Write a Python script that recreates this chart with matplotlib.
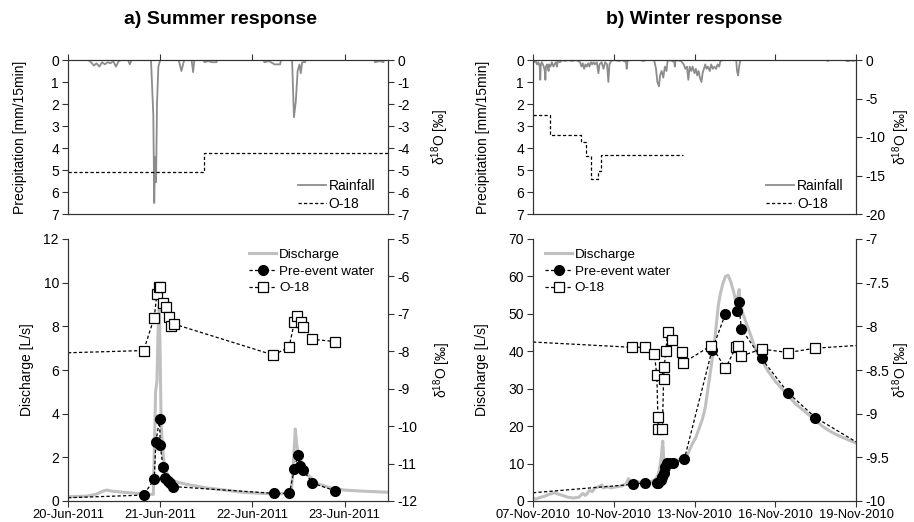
import numpy as np
import pandas as pd
import matplotlib
matplotlib.use("Agg")
import matplotlib.pyplot as plt
import matplotlib.dates as mdates
from matplotlib.lines import Line2D

plt.rcParams['font.family'] = ['Liberation Sans', 'DejaVu Sans']
plt.rcParams['mathtext.fontset'] = 'custom'
plt.rcParams['mathtext.rm'] = 'Liberation Sans'
plt.rcParams['mathtext.it'] = 'Liberation Sans:italic'
plt.rcParams['font.size'] = 10

# ---------------- summer event (days since 20-Jun-2011 00:00) ----------------
summer_start = pd.Timestamp("2011-06-20")
summer_end_day = 3.47

summer_rain_t = [0.0, 0.22, 0.25, 0.28, 0.31, 0.34, 0.37, 0.40, 0.43, 0.46, 0.49, 0.52, 0.55, 0.58,
                 0.65, 0.67, 0.69, 0.90, 0.925, 0.935, 0.945, 0.955, 0.965, 0.98, 1.0,
                 1.20, 1.23, 1.26, 1.34, 1.357, 1.37, 1.47, 1.48, 1.52, 1.56, 1.61, 1.62,
                 2.12, 2.13, 2.18, 2.24, 2.27, 2.30, 2.31, 2.43, 2.45, 2.47, 2.49, 2.51, 2.524,
                 2.54, 2.57, 2.58, 3.32, 3.33, 3.38, 3.42, 3.43, summer_end_day]
summer_rain_v = [0.0, 0.0, 0.1, 0.25, 0.15, 0.3, 0.1, 0.2, 0.1, 0.15, 0.05, 0.3, 0.05, 0.0,
                 0.0, 0.2, 0.0, 0.0, 2.5, 6.5, 4.4, 5.55, 2.0, 0.3, 0.0,
                 0.0, 0.5, 0.0, 0.0, 0.55, 0.0, 0.0, 0.1, 0.05, 0.1, 0.1, 0.0,
                 0.0, 0.1, 0.05, 0.2, 0.2, 0.2, 0.0, 0.0, 2.6, 1.9, 0.5, 0.2, 0.6,
                 0.1, 0.1, 0.0, 0.0, 0.1, 0.05, 0.1, 0.0, 0.0]

summer_rain_o18_t = [0.0, 1.477, summer_end_day]
summer_rain_o18_v = [-5.1, -4.22, -4.22]

summer_q_t = [0.0, 0.2, 0.3, 0.38, 0.42, 0.48, 0.6, 0.75, 0.9, 0.925, 0.94, 0.95, 0.965, 0.975,
              0.99, 1.0, 1.01, 1.025, 1.04, 1.06, 1.09, 1.13, 1.2, 1.3, 1.5, 1.7, 1.9, 2.1,
              2.3, 2.42, 2.44, 2.465, 2.48, 2.5, 2.55, 2.6, 2.7, 2.85, 3.0, 3.2, summer_end_day]
summer_q_v = [0.2, 0.22, 0.3, 0.45, 0.5, 0.45, 0.4, 0.35, 0.3, 0.3, 3.0, 5.0, 5.5, 7.5,
              9.0, 6.5, 3.5, 2.5, 1.8, 1.4, 1.1, 0.95, 0.85, 0.75, 0.6, 0.5, 0.4, 0.35,
              0.33, 0.35, 1.5, 3.3, 2.6, 2.1, 1.6, 1.2, 0.8, 0.6, 0.5, 0.45, 0.4]

# first entry is the line start at the left edge (no marker)
summer_pre_t = [0.0, 0.82, 0.935, 0.953, 0.993, 1.0, 1.03, 1.054, 1.08, 1.108, 1.144,
                2.23, 2.40, 2.455, 2.49, 2.516, 2.55, 2.65, 2.895]
summer_pre_v = [0.15, 0.27, 1.0, 2.72, 3.74, 2.56, 1.57, 1.07, 0.92, 0.81, 0.66,
                0.35, 0.35, 1.45, 2.1, 1.6, 1.42, 0.82, 0.47]

summer_o18_t = [0.0, 0.82, 0.935, 0.964, 0.982, 1.0, 1.025, 1.061, 1.09, 1.119, 1.148,
                2.227, 2.397, 2.455, 2.484, 2.527, 2.552, 2.65, 2.895]
summer_o18_v = [-8.04, -7.98, -7.10, -6.47, -6.29, -6.27, -6.70, -6.83, -7.09, -7.32, -7.27,
                -8.10, -7.89, -7.22, -7.05, -7.21, -7.36, -7.68, -7.74]

# ---------------- winter event (days since 07-Nov-2010 00:00) ----------------
winter_start = pd.Timestamp("2010-11-07")
winter_end_day = 12.0

winter_rain_t = [0.0, 0.05, 0.1, 0.15, 0.2, 0.25, 0.27, 0.29, 0.33, 0.4, 0.44, 0.46, 0.48, 0.52,
                 0.56, 0.58, 0.6, 0.65, 0.7, 0.76, 0.8, 0.85, 0.89, 0.92, 1.0, 1.1, 1.2, 1.3,
                 1.45, 1.6, 1.75, 1.8, 1.85, 1.9, 1.95, 2.0, 2.05, 2.1, 2.15, 2.2, 2.25, 2.3,
                 2.37, 2.43, 2.47, 2.55, 2.62, 2.68, 2.75, 2.8, 2.84, 2.9, 3.0, 3.2, 3.3,
                 3.46, 3.48, 3.51, 3.6, 4.0, 4.1, 4.2, 4.5, 4.57, 4.62, 4.68, 4.72, 4.78,
                 4.84, 4.9, 4.96, 5.0, 5.1, 5.25, 5.27, 5.3, 5.5, 5.6, 5.66, 5.72, 5.77,
                 5.82, 5.88, 5.93, 6.0, 6.05, 6.1, 6.15, 6.2, 6.26, 6.3, 6.35, 6.4, 6.45,
                 6.5, 6.57, 6.62, 6.68, 6.74, 6.8, 6.86, 6.92, 6.96, 7.05, 7.55, 7.58, 7.62,
                 7.66, 7.7, 10.9, 10.95, 11.0, 11.6, 11.65, 11.75, 11.8, 11.9, 12.0]
winter_rain_v = [0.0, 0.1, 0.05, 0.2, 0.1, 0.3, 0.9, 0.2, 0.1, 0.3, 0.5, 0.9, 0.3, 0.2,
                 0.4, 0.5, 0.2, 0.3, 0.1, 0.3, 0.2, 0.1, 0.3, 0.05, 0.1, 0.0, 0.05, 0.0,
                 0.05, 0.0, 0.1, 0.3, 0.15, 0.4, 0.2, 0.3, 0.15, 0.3, 0.1, 0.2, 0.1, 0.2,
                 0.1, 0.6, 0.2, 0.1, 0.4, 0.1, 0.2, 1.0, 0.2, 0.05, 0.0, 0.05, 0.0,
                 0.1, 0.4, 0.05, 0.0, 0.0, 0.05, 0.0, 0.0, 0.4, 1.0, 1.2, 0.7, 0.5,
                 0.8, 0.3, 0.5, 0.05, 0.0, 0.1, 0.3, 0.0, 0.05, 0.2, 0.4, 0.3, 0.9,
                 0.3, 0.5, 0.3, 0.6, 0.4, 0.7, 0.5, 0.8, 1.0, 0.6, 0.4, 0.2, 0.4,
                 0.3, 0.5, 0.2, 0.4, 0.3, 0.4, 0.2, 0.3, 0.05, 0.0, 0.0, 0.5, 0.7,
                 0.3, 0.0, 0.0, 0.05, 0.0, 0.0, 0.05, 0.05, 0.0, 0.05, 0.0]

winter_rain_o18_t = [0.0, 0.64, 1.79, 1.98, 2.16, 2.43, 2.52, 5.58]
winter_rain_o18_v = [-7.2, -9.8, -10.6, -12.5, -15.4, -14.4, -12.4, -12.4]

winter_q_t = [0.0, 0.1, 0.2, 0.3, 0.4, 0.5, 0.6, 0.8, 0.95, 1.1, 1.3, 1.5, 1.7, 1.85, 1.95,
              2.1, 2.2, 2.3, 2.45, 2.55, 2.6, 2.75, 2.9, 3.1, 3.3, 3.45, 3.55, 3.62, 3.8,
              4.0, 4.2, 4.4, 4.55, 4.65, 4.72, 4.77, 4.82, 4.86, 4.92, 5.0, 5.2, 5.4, 5.6,
              5.75, 5.9, 6.05, 6.2, 6.3, 6.4, 6.5, 6.6, 6.7, 6.78, 6.88, 6.95, 7.05, 7.15,
              7.25, 7.35, 7.45, 7.55, 7.62, 7.66, 7.7, 7.8, 7.95, 8.1, 8.3, 8.5, 8.75,
              9.0, 9.25, 9.5, 9.75, 10.0, 10.25, 10.5, 10.75, 11.0, 11.25, 11.5, 11.75, 12.0]
winter_q_v = [0.8, 0.5, 0.8, 1.0, 1.2, 1.5, 1.8, 2.2, 1.8, 1.5, 1.0, 0.8, 1.0, 2.0, 1.5,
              2.8, 2.5, 3.5, 3.8, 4.3, 3.5, 3.8, 3.5, 3.8, 4.0, 4.5, 6.0, 5.0, 5.2,
              5.0, 5.0, 5.2, 5.8, 7.0, 9.5, 12.0, 16.0, 11.0, 10.0, 10.5, 10.8, 11.0, 11.2,
              12.5, 15.0, 17.0, 20.0, 22.0, 25.0, 30.0, 35.0, 40.0, 45.0, 52.0, 55.0, 58.0, 60.0,
              60.3, 58.5, 56.0, 53.0, 55.0, 56.5, 53.0, 50.0, 47.0, 44.0, 40.0, 37.5, 34.5,
              32.0, 30.0, 28.0, 26.0, 24.5, 23.0, 21.5, 20.0, 18.8, 17.8, 17.0, 16.2, 15.5]

# first and last entries are line ends without markers
winter_pre_t = [0.0, 3.73, 4.16, 4.59, 4.63, 4.75, 4.81, 4.85, 4.91, 4.96, 5.06, 5.2, 5.62,
                6.65, 7.15, 7.58, 7.64, 7.74, 8.49, 9.48, 10.49, 12.0]
winter_pre_v = [2.2, 4.46, 4.9, 4.7, 4.9, 5.6, 6.3, 7.4, 9.2, 10.1, 10.2, 10.2, 11.1,
                40.3, 50.0, 50.8, 53.2, 46.0, 38.1, 28.9, 22.3, 15.8]

winter_o18_t = [0.0, 3.68, 4.16, 4.51, 4.60, 4.64, 4.66, 4.81, 4.85, 4.88, 4.93, 5.01, 5.18,
                5.52, 5.57, 6.62, 7.15, 7.54, 7.6, 7.74, 8.49, 9.48, 10.49, 12.0]
winter_o18_v = [-8.18, -8.24, -8.24, -8.32, -8.56, -9.04, -9.18, -9.18, -8.60, -8.46, -8.28,
                -8.06, -8.16, -8.29, -8.42, -8.22, -8.48, -8.24, -8.22, -8.34, -8.26, -8.30,
                -8.25, -8.22]

# ---------------- styling ----------------
RAIN_COLOR = "#8c8c8c"
Q_COLOR = "#c0c0c0"
DOT = (0, (2.6, 1.8))
SPINE_W = 0.8
O18_LABEL = r"δ$^{18}$O [‰]"


def to_dates(start, days):
    return start + pd.to_timedelta(np.asarray(days), unit="D")


def style_axes(ax):
    for s in ax.spines.values():
        s.set_linewidth(SPINE_W)
        s.set_color("#333333")
    ax.tick_params(axis="both", direction="out", length=4, width=SPINE_W,
                   colors="#333333", labelcolor="black", labelsize=10, pad=2.5)


def rain_panel(ax, start, end_day, rain_t, rain_v, o18_t, o18_v, day_step,
               o18_lim, o18_ticks, left_pad, right_x):
    t = to_dates(start, rain_t)
    ax.plot(t, rain_v, color=RAIN_COLOR, lw=1.3, zorder=3)
    ax.set_ylim(7, 0)
    ax.set_yticks(range(0, 8))
    ax.set_xlim(start, to_dates(start, [end_day])[0])
    ax.xaxis.set_major_locator(mdates.DayLocator(interval=day_step))
    ax.xaxis.tick_top()
    ax.tick_params(axis="x", labeltop=False, labelbottom=False)
    ax.set_ylabel("Precipitation [mm/15min]", fontsize=10, labelpad=left_pad)
    style_axes(ax)

    ax2 = ax.twinx()
    ax2.step(to_dates(start, o18_t), o18_v, where="post", color="black",
             lw=0.9, ls=DOT)
    ax2.set_ylim(*o18_lim)
    ax2.set_yticks(o18_ticks)
    ax2.set_yticklabels([f"{v:g}" for v in o18_ticks])
    ax2.set_ylabel(O18_LABEL, fontsize=10)
    ax2.yaxis.set_label_coords(right_x, 0.5)
    style_axes(ax2)

    handles = [Line2D([], [], color=RAIN_COLOR, lw=1.3),
               Line2D([], [], color="black", lw=0.9, ls=DOT)]
    ax2.legend(handles, ["Rainfall", "O-18"], loc="lower right",
               bbox_to_anchor=(1.0, -0.06), frameon=False, fontsize=10,
               handlelength=2.0, handletextpad=0.2, labelspacing=0.25)
    return ax2


def flow_panel(ax, start, end_day, q_t, q_v, pre_t, pre_v, o18_t, o18_v,
               day_step, q_lim, q_step, o18_lim, o18_ticks, legend_loc, legend_anchor,
               pre_markevery, o18_markevery, left_pad, right_x):
    ax.plot(to_dates(start, q_t), q_v, color=Q_COLOR, lw=2.2, zorder=2)
    ax.plot(to_dates(start, pre_t), pre_v, color="black", lw=0.9, ls=DOT,
            marker="o", ms=7, mfc="black", mec="black",
            markevery=pre_markevery, zorder=3)
    ax.set_ylim(*q_lim)
    ax.set_yticks(np.arange(q_lim[0], q_lim[1] + 0.1, q_step))
    ax.set_xlim(start, to_dates(start, [end_day])[0])
    ax.xaxis.set_major_locator(mdates.DayLocator(interval=day_step))
    ax.xaxis.set_major_formatter(mdates.DateFormatter("%d-%b-%Y"))
    ax.spines["top"].set_visible(False)
    ax.set_ylabel("Discharge [L/s]", fontsize=10, labelpad=left_pad)
    style_axes(ax)
    ax.tick_params(axis="x", labelsize=9.3, pad=1.5)

    ax2 = ax.twinx()
    ax2.plot(to_dates(start, o18_t), o18_v, color="black", lw=0.9, ls=DOT,
             marker="s", ms=7, mfc="white", mec="black", mew=0.9,
             markevery=o18_markevery)
    ax2.set_ylim(*o18_lim)
    ax2.set_yticks(o18_ticks)
    ax2.set_yticklabels([f"{v:g}" for v in o18_ticks])
    ax2.spines["top"].set_visible(False)
    ax2.set_ylabel(O18_LABEL, fontsize=10)
    ax2.yaxis.set_label_coords(right_x, 0.5)
    style_axes(ax2)

    handles = [Line2D([], [], color=Q_COLOR, lw=2.2),
               Line2D([], [], color="black", lw=0.9, ls=DOT, marker="o", ms=7,
                      mfc="black", mec="black"),
               Line2D([], [], color="black", lw=0.9, ls=DOT, marker="s", ms=7,
                      mfc="white", mec="black", mew=0.9)]
    ax2.legend(handles, ["Discharge", "Pre-event water", "O-18"], loc=legend_loc,
               bbox_to_anchor=legend_anchor, frameon=False, fontsize=9.7,
               handlelength=2.0, handletextpad=0.2, labelspacing=0.32)
    return ax2


fig = plt.figure(figsize=(9.14, 5.22), dpi=100)

L_left, L_w = 68 / 914, 320 / 914
R_left, R_w = 533 / 914, 323 / 914
top_b, top_h = 1 - 214 / 522, 154 / 522
bot_b, bot_h = 1 - 501 / 522, 262 / 522

ax_a_top = fig.add_axes([L_left, top_b, L_w, top_h])
ax_a_bot = fig.add_axes([L_left, bot_b, L_w, bot_h])
ax_b_top = fig.add_axes([R_left, top_b, R_w, top_h])
ax_b_bot = fig.add_axes([R_left, bot_b, R_w, bot_h])

rain_panel(ax_a_top, summer_start, summer_end_day, summer_rain_t, summer_rain_v,
           summer_rain_o18_t, summer_rain_o18_v, 1, (-7, 0), list(range(0, -8, -1)),
           left_pad=17, right_x=1.128)
rain_panel(ax_b_top, winter_start, winter_end_day, winter_rain_t, winter_rain_v,
           winter_rain_o18_t, winter_rain_o18_v, 3, (-20, 0), [0, -5, -10, -15, -20],
           left_pad=19, right_x=1.105)

flow_panel(ax_a_bot, summer_start, summer_end_day, summer_q_t, summer_q_v,
           summer_pre_t, summer_pre_v, summer_o18_t, summer_o18_v, 1,
           (0, 12), 2, (-12, -5), list(range(-12, -4)),
           "upper right", (0.995, 1.01),
           slice(1, None), slice(1, None), left_pad=7, right_x=1.135)
flow_panel(ax_b_bot, winter_start, winter_end_day, winter_q_t, winter_q_v,
           winter_pre_t, winter_pre_v, winter_o18_t, winter_o18_v, 3,
           (0, 70), 10, (-10, -7), [-10, -9.5, -9, -8.5, -8, -7.5, -7],
           "upper left", (0.0, 1.01),
           slice(1, len(winter_pre_t) - 1), slice(1, len(winter_o18_t) - 1),
           left_pad=14, right_x=1.105)

fig.text(220 / 914, 1 - 20 / 522, "a) Summer response", ha="center", va="center",
         fontsize=14, fontweight="bold")
fig.text(694 / 914, 1 - 20 / 522, "b) Winter response", ha="center", va="center",
         fontsize=14, fontweight="bold")

fig.savefig("out.png", dpi=100)
